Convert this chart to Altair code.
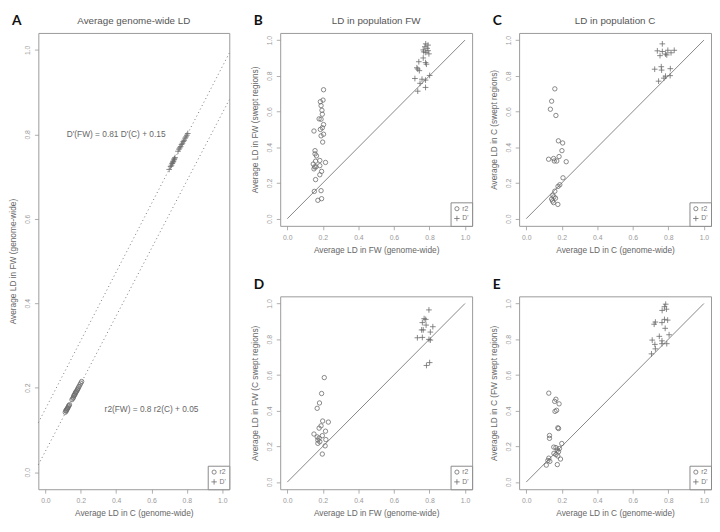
import altair as alt
import pandas as pd

DOM = [-0.04, 1.04]
TICKS = [0.0, 0.2, 0.4, 0.6, 0.8, 1.0]
PLUS = "M-1.3,0L1.3,0M0,-1.3L0,1.3"
TYPES = ["r2", "D'"]

# ---- Panel A: genome-wide LD, C (x) vs FW (y)
a_r2_x = [0.112, 0.115, 0.118, 0.120, 0.122, 0.125, 0.127, 0.130, 0.133, 0.136,
          0.150, 0.155, 0.158, 0.160, 0.163, 0.166, 0.168, 0.170, 0.173, 0.176,
          0.180, 0.183, 0.186, 0.190, 0.195, 0.200, 0.205]
a_r2_y = [0.142, 0.146, 0.145, 0.148, 0.150, 0.151, 0.153, 0.156, 0.158, 0.160,
          0.172, 0.175, 0.177, 0.181, 0.182, 0.184, 0.186, 0.189, 0.190, 0.192,
          0.195, 0.197, 0.200, 0.203, 0.207, 0.211, 0.215]
a_d_x = [0.700, 0.708, 0.713, 0.717, 0.720, 0.722, 0.725, 0.728, 0.730, 0.733,
         0.750, 0.755, 0.760, 0.765, 0.770, 0.775, 0.780, 0.785, 0.790, 0.795, 0.800, 0.805]
a_d_y = [0.717, 0.724, 0.727, 0.731, 0.733, 0.736, 0.737, 0.741, 0.742, 0.745,
         0.760, 0.765, 0.768, 0.771, 0.776, 0.779, 0.783, 0.786, 0.791, 0.794, 0.798, 0.802]
a_fit_slope = {"D'": 0.81, "r2": 0.80}
a_fit_icpt = {"D'": 0.15, "r2": 0.05}
a_eq_text = ["D'(FW) = 0.81 D'(C) + 0.15", "r2(FW) = 0.8 r2(C) + 0.05"]
a_eq_x = [0.40, 0.60]
a_eq_y = [0.80, 0.15]

# ---- Panel B: LD in population FW
b_r2_x = [0.204, 0.201, 0.186, 0.190, 0.195, 0.179, 0.190, 0.197, 0.150, 0.204, 0.197,
          0.186, 0.204, 0.190, 0.199, 0.156, 0.156, 0.164, 0.146, 0.154, 0.161, 0.150,
          0.183, 0.159, 0.183, 0.215, 0.193, 0.183, 0.159, 0.152, 0.190, 0.172, 0.193]
b_r2_y = [0.722, 0.664, 0.655, 0.633, 0.607, 0.559, 0.557, 0.585, 0.491, 0.527, 0.509,
          0.500, 0.473, 0.464, 0.429, 0.381, 0.363, 0.352, 0.306, 0.290, 0.290, 0.279,
          0.326, 0.322, 0.297, 0.315, 0.265, 0.246, 0.219, 0.153, 0.157, 0.103, 0.112]
b_d_x = [0.779, 0.792, 0.774, 0.787, 0.765, 0.792, 0.779, 0.768, 0.797, 0.765, 0.740,
         0.729, 0.734, 0.743, 0.778, 0.783, 0.801, 0.718, 0.758, 0.747, 0.778, 0.734, 0.778]
b_d_y = [0.979, 0.972, 0.963, 0.954, 0.945, 0.941, 0.931, 0.934, 0.923, 0.900, 0.879,
         0.845, 0.838, 0.829, 0.874, 0.865, 0.802, 0.785, 0.781, 0.758, 0.776, 0.714, 0.735]

# ---- Panel C: LD in population C
c_r2_x = [0.161, 0.143, 0.136, 0.167, 0.181, 0.205, 0.201, 0.185, 0.126, 0.154, 0.158,
          0.172, 0.225, 0.207, 0.189, 0.179, 0.161, 0.150, 0.156, 0.143, 0.148, 0.154,
          0.178, 0.165]
c_r2_y = [0.727, 0.658, 0.613, 0.578, 0.436, 0.424, 0.381, 0.348, 0.333, 0.337, 0.323,
          0.323, 0.319, 0.229, 0.190, 0.181, 0.154, 0.131, 0.122, 0.110, 0.099, 0.090,
          0.080, 0.115]
c_d_x = [0.766, 0.738, 0.766, 0.797, 0.833, 0.784, 0.815, 0.753, 0.791, 0.723, 0.760,
         0.762, 0.811, 0.784, 0.810, 0.745, 0.775]
c_d_y = [0.979, 0.940, 0.936, 0.943, 0.943, 0.922, 0.929, 0.913, 0.917, 0.837, 0.851,
         0.832, 0.840, 0.798, 0.801, 0.770, 0.787]

# ---- Panel D: LD in FW (C swept regions)
d_r2_x = [0.208, 0.193, 0.181, 0.168, 0.199, 0.231, 0.190, 0.179, 0.215, 0.150, 0.197,
          0.168, 0.179, 0.172, 0.183, 0.172, 0.217, 0.213, 0.197]
d_r2_y = [0.585, 0.496, 0.443, 0.413, 0.342, 0.336, 0.315, 0.302, 0.285, 0.269, 0.260,
          0.253, 0.246, 0.235, 0.226, 0.217, 0.238, 0.203, 0.157]
d_d_x = [0.797, 0.770, 0.779, 0.760, 0.781, 0.819, 0.756, 0.765, 0.805, 0.732, 0.760,
         0.797, 0.805, 0.801, 0.783]
d_d_y = [0.964, 0.915, 0.911, 0.893, 0.879, 0.870, 0.852, 0.852, 0.840, 0.808, 0.810,
         0.799, 0.795, 0.669, 0.653]

# ---- Panel E: LD in C (FW swept regions)
e_r2_x = [0.127, 0.167, 0.160, 0.185, 0.171, 0.162, 0.178, 0.182, 0.131, 0.131, 0.200,
          0.155, 0.167, 0.175, 0.182, 0.156, 0.167, 0.178, 0.127, 0.122, 0.133, 0.113,
          0.175, 0.193, 0.187]
e_r2_y = [0.498, 0.464, 0.452, 0.438, 0.402, 0.396, 0.304, 0.300, 0.261, 0.245, 0.216,
          0.196, 0.193, 0.179, 0.170, 0.161, 0.154, 0.146, 0.134, 0.121, 0.116, 0.095,
          0.098, 0.129, 0.188]
e_d_x = [0.785, 0.778, 0.765, 0.789, 0.727, 0.720, 0.764, 0.778, 0.796, 0.782, 0.804,
         0.709, 0.724, 0.764, 0.791, 0.749, 0.764, 0.727, 0.705]
e_d_y = [0.996, 0.982, 0.961, 0.968, 0.896, 0.884, 0.893, 0.911, 0.907, 0.861, 0.825,
         0.795, 0.771, 0.775, 0.775, 0.816, 0.791, 0.746, 0.718]

diag = [0.0, 1.0]

FONT = "Liberation Sans"
PT_COLOR = "#6a6a6a"


def make_df(rx, ry, dx, dy):
    return pd.DataFrame({"x": rx + dx, "y": ry + dy,
                         "type": ["r2"] * len(rx) + ["D'"] * len(dx)})


def xenc(title):
    return alt.X("x:Q", scale=alt.Scale(domain=DOM, nice=False, zero=False),
                 axis=alt.Axis(values=TICKS, format=".1f", title=title, labelOverlap=False,
                               labelSeparation=0))


def yenc(title):
    return alt.Y("y:Q", scale=alt.Scale(domain=DOM, nice=False, zero=False),
                 axis=alt.Axis(values=TICKS, format=".1f", title=title, labelAngle=-90,
                               labelAlign="center", labelBaseline="bottom",
                               labelOverlap=False, labelSeparation=0))


def points(df, xt, yt):
    return alt.Chart(df).mark_point(filled=False, strokeWidth=0.8, color=PT_COLOR,
                                    opacity=1, size=20).encode(
        x=xenc(xt), y=yenc(yt),
        shape=alt.Shape("type:N", scale=alt.Scale(domain=TYPES, range=["circle", PLUS]),
                        legend=alt.Legend(title=None, orient="bottom-right", offset=0,
                                          strokeColor="#888", fillColor="white", padding=3,
                                          labelFontSize=7, labelColor="#777", labelFont=FONT,
                                          symbolSize=18, symbolStrokeColor=PT_COLOR,
                                          symbolFillColor="transparent", symbolStrokeWidth=0.8,
                                          rowPadding=1, labelOffset=2)),
    )


def heading(ch, t, w):
    lay = [alt.Chart(pd.DataFrame({"t": [ch]})).mark_text(
        align="left", baseline="alphabetic", fontSize=14, fontWeight="bold",
        font="Lato", color="#111").encode(text="t:N", x=alt.value(-27), y=alt.value(-8))]
    if t:
        lay.append(alt.Chart(pd.DataFrame({"t": [t]})).mark_text(
            align="center", baseline="alphabetic", fontSize=10, font=FONT,
            color="#555").encode(text="t:N", x=alt.value(w / 2), y=alt.value(-9)))
    return lay


def diag_line(xt, yt):
    return alt.Chart(pd.DataFrame({"x": diag, "y": diag})).mark_line(
        color="#666", strokeWidth=0.8).encode(x=xenc(xt), y=yenc(yt))


SW, SH = 196, 197
AW, AH = 195, 466

# Panel A
XA, YA = "Average LD in C (genome-wide)", "Average LD in FW (genome-wide)"
dfA = make_df(a_r2_x, a_r2_y, a_d_x, a_d_y)
fit_rows = []
for k in ["D'", "r2"]:
    for xv in DOM:
        fit_rows.append({"x": xv, "y": a_fit_slope[k] * xv + a_fit_icpt[k], "fit": k})
fitA = alt.Chart(pd.DataFrame(fit_rows)).mark_line(
    color="#777", strokeWidth=1, strokeDash=[1, 3]).encode(
    x=xenc(XA), y=yenc(YA), detail="fit:N")
eqA = alt.Chart(pd.DataFrame({"x": a_eq_x, "y": a_eq_y, "t": a_eq_text})).mark_text(
    fontSize=8.5, color="#666", font=FONT).encode(x=xenc(XA), y=yenc(YA), text="t:N")
panelA = alt.layer(
    points(dfA, XA, YA), fitA, eqA, *heading("A", "Average genome-wide LD", AW)
).properties(width=AW, height=AH)


def small(rx, ry, dx, dy, xt, yt, ch, t):
    return alt.layer(
        points(make_df(rx, ry, dx, dy), xt, yt), diag_line(xt, yt), *heading(ch, t, SW)
    ).properties(width=SW, height=SH)


panelB = small(b_r2_x, b_r2_y, b_d_x, b_d_y, "Average LD in FW (genome-wide)",
               "Average LD in FW (swept regions)", "B", "LD in population FW")
panelC = small(c_r2_x, c_r2_y, c_d_x, c_d_y, "Average LD in C (genome-wide)",
               "Average LD in C (swept regions)", "C", "LD in population C")
panelD = small(d_r2_x, d_r2_y, d_d_x, d_d_y, "Average LD in FW (genome-wide)",
               "Average LD in FW (C swept regions)", "D", None)
panelE = small(e_r2_x, e_r2_y, e_d_x, e_d_y, "Average LD in C (genome-wide)",
               "Average LD in C (FW swept regions)", "E", None)


def indep(c):
    return c.resolve_scale(shape="independent").resolve_legend(shape="independent")


top = indep(alt.hconcat(panelB, panelC, spacing=16))
bot = indep(alt.hconcat(panelD, panelE, spacing=16))
right = indep(alt.vconcat(top, bot, spacing=23))
chart = indep(alt.hconcat(panelA, right, spacing=18)).properties(
    padding=0
).configure_view(stroke="#999", strokeWidth=1).configure_axis(
    grid=False, domain=False, tickSize=4, tickColor="#999", tickWidth=0.8,
    labelFontSize=7, labelColor="#999", labelFont=FONT, labelPadding=4,
    titleFontSize=8.5, titleColor="#666", titleFont=FONT, titleFontWeight="normal",
    titlePadding=5, labelFlush=False, labelOverlap=False
).configure_axisY(titlePadding=6)

chart.save("out.html", embed_options={"renderer": "svg", "actions": False})
